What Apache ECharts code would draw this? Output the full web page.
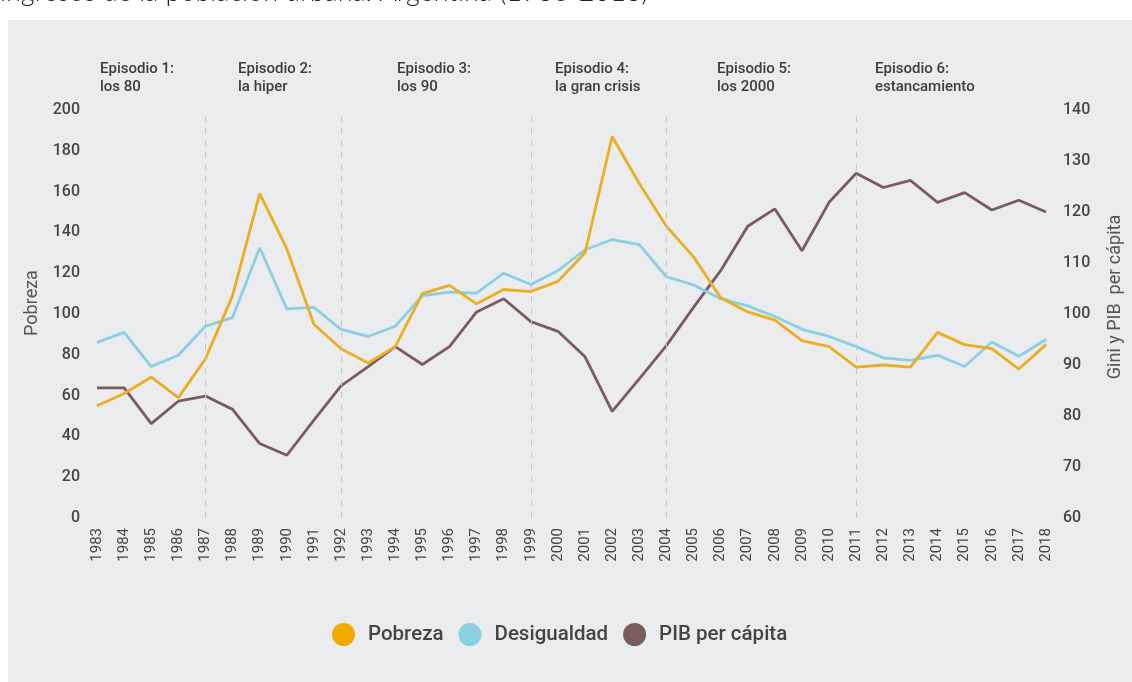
<!DOCTYPE html>
<html>
<head>
<meta charset="utf-8">
<script src="https://cdn.jsdelivr.net/npm/echarts@6/dist/echarts.min.js"></script>
<style>
  html, body { margin: 0; padding: 0; background: #fff; }
  #chart { width: 1132px; height: 682px; }
</style>
</head>
<body>
<div id="chart"></div>
<script>
var years = ['1983', '1984', '1985', '1986', '1987', '1988', '1989', '1990', '1991', '1992',
    '1993', '1994', '1995', '1996', '1997', '1998', '1999', '2000', '2001', '2002',
    '2003', '2004', '2005', '2006', '2007', '2008', '2009', '2010', '2011', '2012',
    '2013', '2014', '2015', '2016', '2017', '2018'];

// eje izquierdo
var pobreza = [55, 61, 69, 59, 78, 109, 159, 132, 95, 83,
    76, 84, 110, 114, 105, 112, 111, 116, 130, 187,
    164, 143, 128, 108, 101, 97, 87, 84, 74, 75,
    74, 91, 85, 83, 73, 85];

// eje derecho
var desigualdad = [94.4, 96.4, 89.7, 91.9, 97.6, 99.3, 113, 101, 101.3, 97,
    95.6, 97.6, 103.6, 104.3, 104.1, 108, 105.8, 108.5, 112.6, 114.6,
    113.6, 107.3, 105.7, 103, 101.6, 99.5, 97, 95.6, 93.6, 91.4,
    90.9, 91.9, 89.7, 94.5, 91.7, 95];

var pib = [85.5, 85.5, 78.5, 82.9, 83.9, 81.3, 74.6, 72.3, 79.2, 85.9,
    89.7, 93.6, 90.1, 93.6, 100.4, 103, 98.5, 96.6, 91.6, 80.9,
    87.3, 93.8, 101.3, 108.5, 117.2, 120.6, 112.4, 121.9, 127.6, 124.8,
    126.2, 121.9, 123.8, 120.4, 122.3, 120];

var cortes = ['1987', '1992', '1999', '2004', '2011'];

var episodios = [
    ['Episodio 1:', 'los 80'],
    ['Episodio 2:', 'la hiper'],
    ['Episodio 3:', 'los 90'],
    ['Episodio 4:', 'la gran crisis'],
    ['Episodio 5:', 'los 2000'],
    ['Episodio 6:', 'estancamiento']
];
var episodioX = [100, 238, 397, 555, 717, 875];

var colores = ['#F2A900', '#8ACFE2', '#7A5C5E'];
var fuente = 'Roboto, "Noto Sans", sans-serif';

var chart = echarts.init(document.getElementById('chart'));

var graficos = [
    { type: 'rect', shape: { x: 8, y: 20, width: 1124, height: 662 }, style: { fill: '#EBECEE' }, z: -10 },
    {
        type: 'text', left: 0, top: -21,
        style: { text: 'ingresos de la población urbana. Argentina (1983-2018)', fontSize: 27,
            fontFamily: 'Lato, "Open Sans", sans-serif', fontWeight: 300, fill: '#222' },
        z: -5
    }
];
for (var i = 0; i < episodios.length; i++) {
    graficos.push({
        type: 'text', left: episodioX[i], top: 60,
        style: { text: episodios[i][0] + '\n' + episodios[i][1], fontSize: 15, lineHeight: 18,
            fontFamily: fuente, fontWeight: 500, fill: '#3d3d3d' }
    });
}

var option = {
    animation: false,
    backgroundColor: 'transparent',
    graphic: graficos,
    grid: { left: 97, right: 77, top: 110, bottom: 164 },
    legend: {
        left: 327, top: 618,
        icon: 'circle', itemWidth: 23, itemHeight: 23, itemGap: 15,
        textStyle: { fontSize: 20.5, fontWeight: 500, color: '#444', fontFamily: fuente, padding: [0, 0, 0, 8] },
        data: ['Pobreza', 'Desigualdad', 'PIB per cápita']
    },
    xAxis: {
        type: 'category', data: years, boundaryGap: false,
        axisLine: { show: false }, axisTick: { show: false },
        axisLabel: { rotate: 90, interval: 0, margin: 10, fontSize: 15, color: '#444', fontFamily: fuente },
        splitLine: { show: false }
    },
    yAxis: [
        {
            type: 'value', min: 0, max: 200, interval: 20, position: 'left',
            name: 'Pobreza', nameLocation: 'middle', nameGap: 54, nameRotate: 90,
            nameTextStyle: { fontSize: 18, color: '#555', fontFamily: fuente, padding: [0, 0, 0, 22] },
            axisLine: { show: false }, axisTick: { show: false }, splitLine: { show: false },
            axisLabel: { margin: 17, fontSize: 16, fontWeight: 500, color: '#444', fontFamily: fuente }
        },
        {
            type: 'value', min: 60, max: 140, interval: 10, position: 'right',
            name: 'Gini y PIB  per cápita', nameLocation: 'middle', nameGap: 60, nameRotate: 90,
            nameTextStyle: { fontSize: 18, color: '#555', fontFamily: fuente, padding: [0, 0, 0, 34] },
            axisLine: { show: false }, axisTick: { show: false }, splitLine: { show: false },
            axisLabel: { margin: 17, fontSize: 16, fontWeight: 500, color: '#444', fontFamily: fuente }
        }
    ],
    series: [
        {
            name: 'Pobreza', type: 'line', yAxisIndex: 0, data: pobreza,
            showSymbol: false, symbol: 'none', color: colores[0],
            lineStyle: { width: 2.8, color: '#EBAE22' }, z: 3,
            markLine: {
                silent: true, symbol: 'none', label: { show: false },
                lineStyle: { type: [6, 6], color: '#C2C4C8', width: 1 },
                data: cortes.map(function (c) { return { xAxis: c }; })
            }
        },
        {
            name: 'Desigualdad', type: 'line', yAxisIndex: 1, data: desigualdad,
            showSymbol: false, symbol: 'none', color: colores[1],
            lineStyle: { width: 2.8, color: '#8ACFE2' }, z: 2
        },
        {
            name: 'PIB per cápita', type: 'line', yAxisIndex: 1, data: pib,
            showSymbol: false, symbol: 'none', color: colores[2],
            lineStyle: { width: 2.8, color: '#7A5C5E' }, z: 1
        }
    ]
};

chart.setOption(option);
</script>
</body>
</html>
